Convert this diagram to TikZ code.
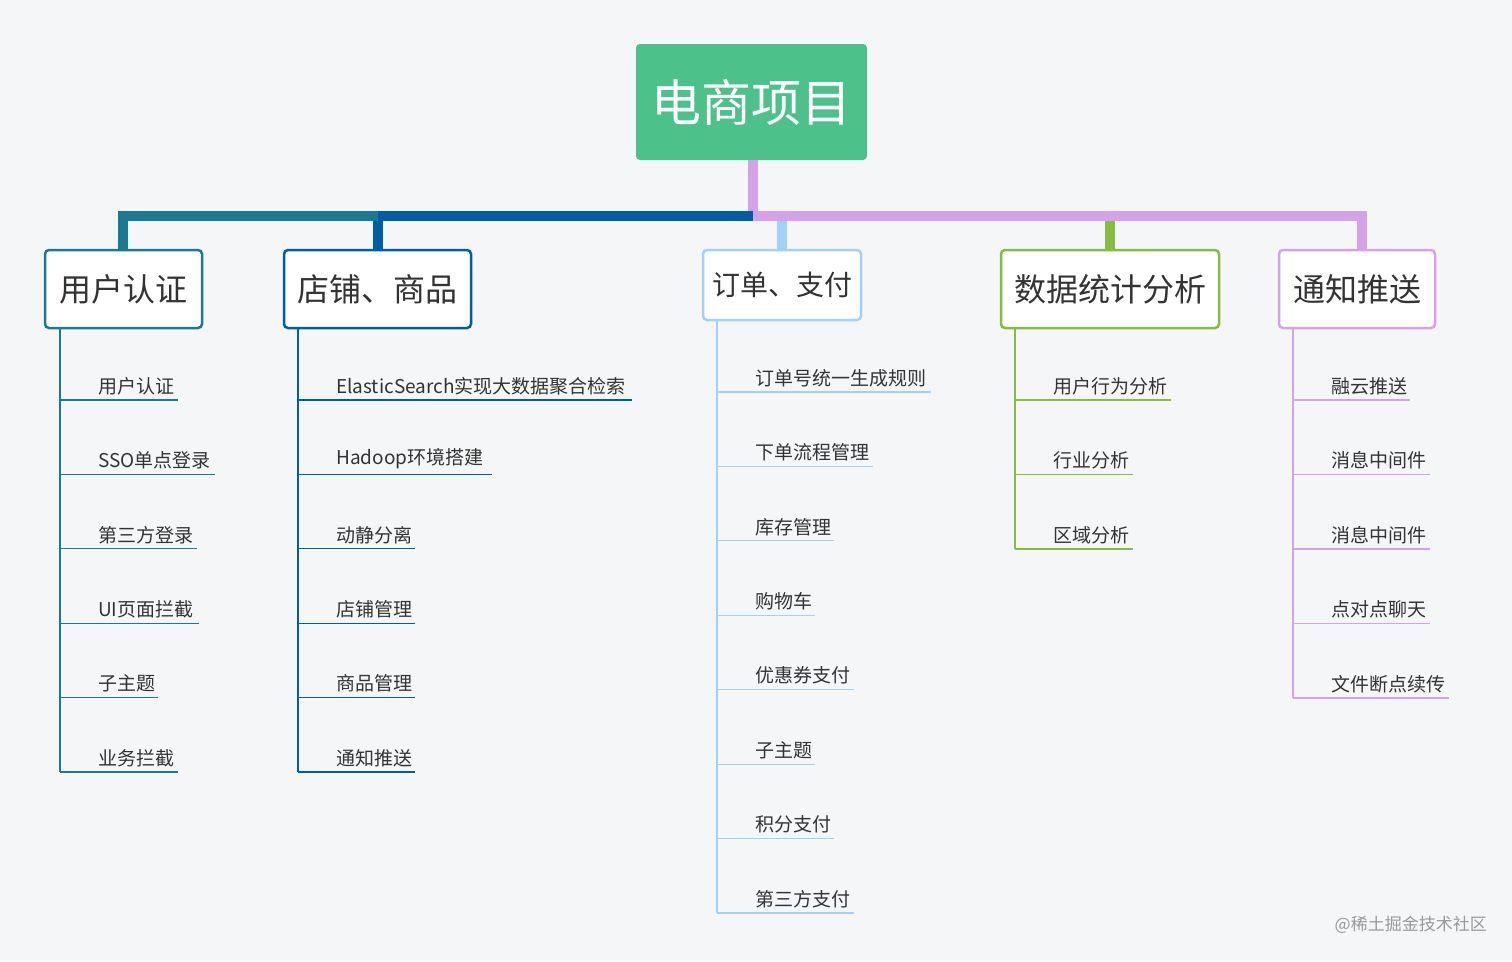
\documentclass[tikz,border=0pt]{standalone}
\usepackage{fontspec}
\setmainfont{Noto Sans CJK SC}
\definecolor{bg}{HTML}{F5F6F7}
\definecolor{cteal}{HTML}{1A7A93}
\definecolor{cblue}{HTML}{005EA6}
\definecolor{clight}{HTML}{A3D0F8}
\definecolor{cgreen}{HTML}{86BC41}
\definecolor{cpurple}{HTML}{D4A2E8}
\definecolor{croot}{HTML}{4DC18A}
\definecolor{txt}{HTML}{333333}
\begin{document}
\begin{tikzpicture}[x=1pt,y=-1pt,
  topic/.style={draw=#1,line width=2.5pt,fill=white,rounded corners=4pt,text=txt,inner sep=0pt},
  sub/.style={anchor=south west,text=txt,font=\fontsize{19}{19}\selectfont,inner sep=0pt},
  bar/.style={line width=10pt,#1}]
\fill[bg] (0,0) rectangle (1512,961);
\useasboundingbox (0,0) rectangle (1512,961);
% root
\node[fill=croot,rounded corners=4pt,minimum width=231pt,minimum height=116pt,text=white,font=\fontsize{50}{50}\selectfont,inner sep=0pt] (root) at (751.5,102) {电商项目};
% bars
\draw[bar=cpurple] (root.south -| 753,0) -- (753,216) -- (1362,216) -- (1362,250);
\draw[bar=cblue] (753,216) -- (378,216) -- (378,250);
\draw[bar=cteal] (378,216) -- (123,216) -- (123,250);
\draw[bar=clight] (782,221) -- (782,250);
\draw[bar=cgreen] (1110,221) -- (1110,250);
% topics
\node[topic=cteal,minimum width=157pt,minimum height=78pt,font=\fontsize{32}{32}\selectfont] (t1) at (123.5,289) {用户认证};
\node[topic=cblue,minimum width=187pt,minimum height=78pt,font=\fontsize{32}{32}\selectfont] (t2) at (377.5,289) {店铺、商品};
\node[topic=clight,minimum width=158pt,minimum height=70pt,font=\fontsize{28}{28}\selectfont] (t3) at (782,285) {订单、支付};
\node[topic=cgreen,minimum width=218pt,minimum height=78pt,font=\fontsize{32}{32}\selectfont] (t4) at (1110,289) {数据统计分析};
\node[topic=cpurple,minimum width=156pt,minimum height=78pt,font=\fontsize{32}{32}\selectfont] (t5) at (1357,289) {通知推送};
% branches
\foreach \col/\vx/\first/\last/\items [count=\b] in {
  cteal/60/400/772/{用户认证/178,SSO单点登录/215,第三方登录/197,UI页面拦截/199,子主题/158,业务拦截/178},
  cblue/298/400/772/{ElasticSearch实现大数据聚合检索/632,Hadoop环境搭建/492,动静分离/415,店铺管理/415,商品管理/415,通知推送/415},
  clight/717/392/913/{订单号统一生成规则/931,下单流程管理/873,库存管理/834,购物车/815,优惠券支付/854,子主题/815,积分支付/834,第三方支付/854},
  cgreen/1015/400/549/{用户行为分析/1171,行业分析/1133,区域分析/1133},
  cpurple/1293/400/698/{融云推送/1410,消息中间件/1430,消息中间件/1430,点对点聊天/1430,文件断点续传/1449}}{
  \draw[\col,line width=1.2pt] (t\b.south -| \vx,0) -- (\vx,\last);
  \foreach \t/\e [count=\i] in \items {
    \pgfmathsetmacro{\yy}{\first+(\i-1)*(\last-\first)/(\ifnum\b=3 7\else\ifnum\b=4 2\else\ifnum\b=5 4\else 5\fi\fi\fi)}
    \coordinate (u\b-\i) at (\vx,\yy);
    \node[sub] (s\b-\i) at (\vx+38,\yy-5) {\t};
    \draw[\col,line width=1.2pt] (u\b-\i) -- (\e,\yy);
  }
}
\node[anchor=east,text=gray!80,font=\fontsize{17}{17}\selectfont,inner sep=0pt] (wm) at (1487,925) {@稀土掘金技术社区};
\end{tikzpicture}
\end{document}
